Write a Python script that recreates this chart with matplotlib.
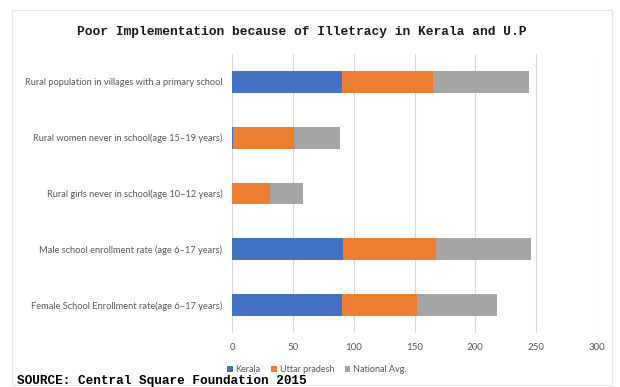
import numpy as np
import matplotlib
matplotlib.use("Agg")
import matplotlib.pyplot as plt
from matplotlib.patches import Rectangle

# data
categories = [
    "Rural population in villages with a primary school",
    "Rural women never in school(age 15\u201319 years)",
    "Rural girls never in school(age 10\u201312 years)",
    "Male school enrollment rate (age 6\u201317 years)",
    "Female School Enrollment rate(age 6\u201317 years)",
]
kerala = [90, 1, 0, 91, 90]
uttar_pradesh = [75, 50, 31, 77, 62]
national_avg = [79, 38, 27, 78, 66]

series_names = ["Kerala", "Uttar pradesh", "National Avg."]
colors = ["#4472C4", "#ED7D31", "#A5A5A5"]

fig = plt.figure(figsize=(6.2, 3.87), dpi=100)
fig.patch.set_facecolor("white")

# light frame around the chart area
fig.add_artist(Rectangle((12 / 620, 1 - 385 / 387), 600 / 620, 375 / 387,
                         transform=fig.transFigure, fill=False,
                         edgecolor="#e4e4e4", linewidth=0.8))

ax = fig.add_axes([232 / 620, 1 - 333 / 387, 365 / 620, 279 / 387])

y = np.arange(len(categories))
left = np.zeros(len(categories))
for vals, name, c in zip([kerala, uttar_pradesh, national_avg], series_names, colors):
    ax.barh(y, vals, left=left, height=0.39, color=c, label=name, zorder=3)
    left = left + np.array(vals)

ax.set_ylim(len(categories) - 0.5, -0.5)
ax.set_xlim(0, 300)
ax.set_xticks(np.arange(0, 301, 50))
ax.set_yticks(y)
ax.set_yticklabels(categories, fontsize=6.7, color="#595959", family="Lato")
ax.tick_params(axis="x", labelsize=7, colors="#595959", length=0, pad=7)
ax.tick_params(axis="y", length=0, pad=7)
for lab in ax.get_xticklabels():
    lab.set_family("Lato")
ax.grid(axis="x", color="#d9d9d9", linewidth=0.8, zorder=0)
for s in ax.spines.values():
    s.set_visible(False)

fig.text(0.486, 1 - 32 / 387, "Poor Implementation because of Illetracy in Kerala and U.P",
         ha="center", va="center", family="Liberation Mono", fontsize=9.3,
         fontweight="bold", color="#1a1a1a")

leg = fig.legend(loc="center", bbox_to_anchor=(317 / 620, 1 - 370 / 387), ncol=3,
                 frameon=False, handlelength=0.6, handleheight=0.6,
                 columnspacing=1.2, handletextpad=0.3, labelcolor="#595959",
                 prop={"family": "Lato", "size": 6.5})

fig.text(17 / 620, 1 - 381 / 387, "SOURCE: Central Square Foundation 2015",
         ha="left", va="center", family="Liberation Mono", fontsize=9.2,
         fontweight="bold", color="black")

fig.savefig("out.png", dpi=100)
